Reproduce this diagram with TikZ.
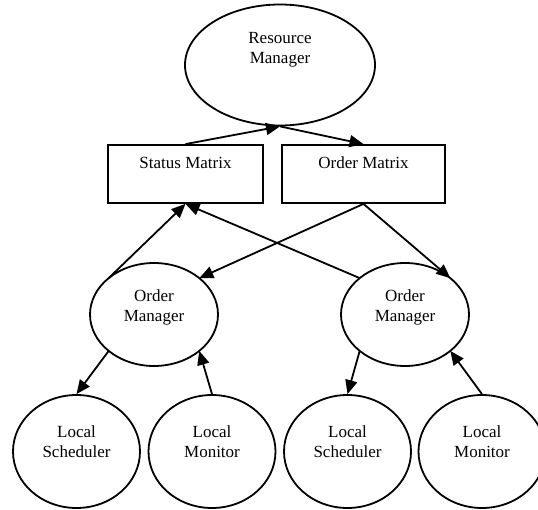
\documentclass[tikz,border=0pt]{standalone}
\usepackage{fontspec}
\setmainfont{Liberation Serif}
\usetikzlibrary{arrows.meta,shapes.geometric}
\begin{document}
\begin{tikzpicture}[x=1pt,y=-1pt,
  ell/.style={draw,ellipse,line width=1.8pt,inner sep=0pt},
  boxn/.style={draw,rectangle,line width=1.8pt,inner sep=0pt},
  txt/.style={align=center,font=\fontsize{17}{20}\selectfont,inner sep=0pt},
  arr/.style={line width=1.8pt,-{Triangle[length=14pt,width=12pt]}}]
\useasboundingbox (0,0) rectangle (538,510);
% shapes
\node[ell,minimum width=190pt,minimum height=121pt] (RM) at (280,65) {};
\node[boxn,minimum width=155pt,minimum height=58pt] (SM) at (185.5,174) {};
\node[boxn,minimum width=163pt,minimum height=58pt] (OMx) at (363.5,174) {};
\node[ell,minimum width=128pt,minimum height=103pt] (OM1) at (154,314.5) {};
\node[ell,minimum width=128pt,minimum height=103pt] (OM2) at (405,314.5) {};
\node[ell,minimum width=127pt,minimum height=113pt] (LS1) at (76.5,451.5) {};
\node[ell,minimum width=127pt,minimum height=113pt] (LM1) at (212,451.5) {};
\node[ell,minimum width=127pt,minimum height=113pt] (LS2) at (347.5,451.5) {};
\node[ell,minimum width=127pt,minimum height=113pt] (LM2) at (482,451.5) {};
% texts
\node[txt] (tRM) at (280,50) {Resource\\Manager};
\node[txt] (tSM) at (185.5,163) {Status Matrix};
\node[txt] (tOMx) at (363.5,163) {Order Matrix};
\node[txt] (tOM1) at (154,307) {Order\\Manager};
\node[txt] (tOM2) at (405,307) {Order\\Manager};
\node[txt] (tLS1) at (76.5,442) {Local\\Scheduler};
\node[txt] (tLM1) at (212,442) {Local\\Monitor};
\node[txt] (tLS2) at (347.5,442) {Local\\Scheduler};
\node[txt] (tLM2) at (482,442) {Local\\Monitor};
% connection points on ellipses
\coordinate (OM1nw) at ([shift={(-45.3,-36.4)}]OM1.center);
\coordinate (OM1ne) at ([shift={(45.3,-36.4)}]OM1.center);
\coordinate (OM1sw) at ([shift={(-45.3,36.4)}]OM1.center);
\coordinate (OM1se) at ([shift={(45.3,36.4)}]OM1.center);
\coordinate (OM2nw) at ([shift={(-45.3,-36.4)}]OM2.center);
\coordinate (OM2ne) at ([shift={(45.3,-36.4)}]OM2.center);
\coordinate (OM2sw) at ([shift={(-45.3,36.4)}]OM2.center);
\coordinate (OM2se) at ([shift={(45.3,36.4)}]OM2.center);
% connectors
\draw[arr] (SM.north) -- (RM.south);
\draw[arr] (RM.south) -- (OMx.north);
\draw[arr] (OM1nw) -- (SM.south);
\draw[arr] (OM2nw) -- (SM.south);
\draw[arr] (OMx.south) -- (OM1ne);
\draw[arr] (OMx.south) -- (OM2ne);
\draw[arr] (OM1sw) -- (LS1.north);
\draw[arr] (LM1.north) -- (OM1se);
\draw[arr] (OM2sw) -- (LS2.north);
\draw[arr] (LM2.north) -- (OM2se);
\end{tikzpicture}
\end{document}
